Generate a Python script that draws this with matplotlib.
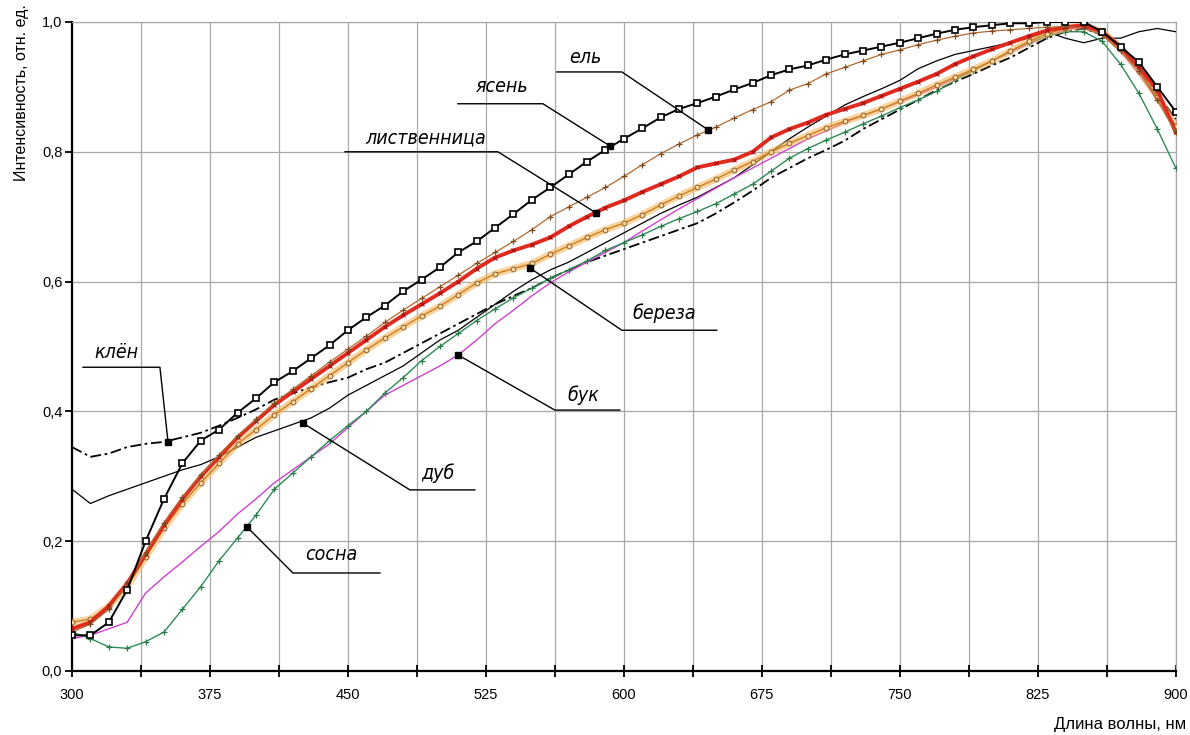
import numpy as np
import matplotlib
matplotlib.use("Agg")
import matplotlib.pyplot as plt

plt.rcParams['font.family'] = ['Liberation Sans', 'DejaVu Sans']

# wavelength grid, nm
wl = list(range(300, 910, 10))

yasen = [0.055, 0.055, 0.075, 0.125, 0.200, 0.265, 0.320, 0.355, 0.372, 0.398,
         0.420, 0.445, 0.462, 0.482, 0.502, 0.525, 0.545, 0.563, 0.585, 0.603,
         0.622, 0.645, 0.662, 0.683, 0.704, 0.726, 0.745, 0.765, 0.785, 0.803,
         0.820, 0.836, 0.853, 0.866, 0.875, 0.885, 0.896, 0.906, 0.918, 0.927,
         0.933, 0.942, 0.950, 0.956, 0.962, 0.968, 0.975, 0.982, 0.988, 0.992,
         0.995, 0.998, 0.998, 1.000, 1.000, 1.000, 0.985, 0.962, 0.938, 0.900,
         0.862]

listv = [0.065, 0.075, 0.100, 0.135, 0.180, 0.225, 0.265, 0.300, 0.330, 0.360,
         0.385, 0.410, 0.430, 0.450, 0.470, 0.490, 0.510, 0.530, 0.548, 0.565,
         0.582, 0.600, 0.620, 0.637, 0.648, 0.657, 0.668, 0.685, 0.700, 0.714,
         0.725, 0.738, 0.750, 0.762, 0.776, 0.782, 0.788, 0.800, 0.822, 0.835,
         0.845, 0.857, 0.866, 0.875, 0.886, 0.897, 0.908, 0.920, 0.935, 0.947,
         0.958, 0.968, 0.978, 0.987, 0.992, 0.995, 0.985, 0.962, 0.930, 0.895,
         0.830]

el = [0.060, 0.072, 0.095, 0.135, 0.182, 0.228, 0.268, 0.302, 0.333, 0.362,
      0.388, 0.413, 0.434, 0.455, 0.476, 0.496, 0.516, 0.537, 0.556, 0.574,
      0.592, 0.610, 0.628, 0.645, 0.662, 0.680, 0.700, 0.715, 0.730, 0.745,
      0.762, 0.780, 0.797, 0.812, 0.826, 0.838, 0.852, 0.865, 0.877, 0.895,
      0.905, 0.920, 0.930, 0.940, 0.950, 0.957, 0.965, 0.972, 0.978, 0.983,
      0.986, 0.988, 0.990, 0.992, 0.993, 0.990, 0.980, 0.955, 0.925, 0.880,
      0.830]

bereza = [0.075, 0.080, 0.100, 0.130, 0.175, 0.220, 0.258, 0.290, 0.320, 0.350,
          0.372, 0.395, 0.415, 0.435, 0.455, 0.475, 0.495, 0.513, 0.530, 0.547,
          0.562, 0.580, 0.598, 0.612, 0.620, 0.628, 0.642, 0.655, 0.668, 0.680,
          0.690, 0.703, 0.718, 0.732, 0.745, 0.758, 0.772, 0.785, 0.800, 0.813,
          0.825, 0.837, 0.847, 0.856, 0.866, 0.878, 0.890, 0.903, 0.915, 0.927,
          0.940, 0.955, 0.970, 0.982, 0.990, 0.995, 0.985, 0.960, 0.925, 0.885,
          0.840]

buk = [0.050, 0.055, 0.065, 0.075, 0.120, 0.145, 0.168, 0.192, 0.215, 0.242,
       0.265, 0.290, 0.310, 0.330, 0.350, 0.375, 0.400, 0.425, 0.440, 0.455,
       0.470, 0.487, 0.510, 0.535, 0.556, 0.578, 0.598, 0.615, 0.630, 0.645,
       0.660, 0.678, 0.695, 0.712, 0.728, 0.744, 0.760, 0.775, 0.790, 0.805,
       0.820, 0.832, 0.845, 0.856, 0.866, 0.877, 0.888, 0.900, 0.913, 0.926,
       0.940, 0.953, 0.966, 0.978, 0.988, 0.992, 0.980, 0.955, 0.920, 0.880,
       0.840]

dub = [0.280, 0.258, 0.270, 0.280, 0.290, 0.300, 0.310, 0.318, 0.330, 0.345,
       0.360, 0.370, 0.380, 0.390, 0.405, 0.425, 0.440, 0.455, 0.470, 0.490,
       0.510, 0.525, 0.545, 0.565, 0.585, 0.603, 0.618, 0.630, 0.645, 0.660,
       0.675, 0.690, 0.705, 0.718, 0.730, 0.745, 0.760, 0.780, 0.800, 0.820,
       0.838, 0.855, 0.872, 0.885, 0.897, 0.910, 0.928, 0.940, 0.950, 0.956,
       0.962, 0.968, 0.975, 0.985, 0.975, 0.968, 0.975, 0.975, 0.985, 0.990,
       0.985]

klen = [0.345, 0.330, 0.335, 0.345, 0.350, 0.353, 0.360, 0.367, 0.378, 0.390,
        0.403, 0.418, 0.428, 0.437, 0.445, 0.452, 0.465, 0.475, 0.490, 0.505,
        0.520, 0.535, 0.550, 0.565, 0.578, 0.590, 0.605, 0.618, 0.630, 0.640,
        0.650, 0.660, 0.670, 0.680, 0.690, 0.705, 0.722, 0.740, 0.760, 0.775,
        0.790, 0.803, 0.817, 0.835, 0.850, 0.865, 0.880, 0.895, 0.908, 0.920,
        0.933, 0.945, 0.960, 0.975, 0.985, 0.990, 0.980, 0.960, 0.930, 0.890,
        0.850]

sosna = [0.060, 0.050, 0.037, 0.035, 0.045, 0.060, 0.095, 0.130, 0.170, 0.205,
         0.240, 0.280, 0.305, 0.330, 0.355, 0.378, 0.400, 0.428, 0.452, 0.478,
         0.500, 0.520, 0.540, 0.558, 0.575, 0.590, 0.605, 0.618, 0.632, 0.648,
         0.660, 0.672, 0.685, 0.697, 0.708, 0.720, 0.735, 0.750, 0.770, 0.790,
         0.805, 0.818, 0.830, 0.843, 0.855, 0.868, 0.880, 0.893, 0.910, 0.925,
         0.940, 0.955, 0.968, 0.978, 0.985, 0.985, 0.970, 0.935, 0.890, 0.835,
         0.775]

# labels: text, text pos, leader polyline (from underline end to point on curve)
notes = [
    ("ясень", (534, 0.900), [(509.8, 0.874), (556, 0.874), (592.4, 0.809)]),
    ("ель", (579, 0.945), [(563.6, 0.923), (598.9, 0.923), (645.7, 0.834)]),
    ("лиственница", (492, 0.821), [(448.4, 0.800), (531.5, 0.800), (584.8, 0.706)]),
    ("береза", (622, 0.552), [(650.5, 0.525), (598.9, 0.525), (548.9, 0.621)]),
    ("бук", (578, 0.425), [(597.8, 0.402), (562.5, 0.402), (509.8, 0.487)]),
    ("дуб", (499, 0.305), [(519.0, 0.279), (483.7, 0.279), (425.5, 0.382)]),
    ("сосна", (441, 0.179), [(467.4, 0.151), (420.1, 0.151), (395.1, 0.222)]),
    ("клён", (324, 0.490), [(306.0, 0.468), (347.8, 0.468), (352.2, 0.353)]),
]

fig = plt.figure(figsize=(11.9, 7.35), dpi=100)
ax = fig.add_axes([0.0605, 0.0871, 0.9275, 0.883])

ax.plot(wl, klen, color='black', lw=1.3, ls=(0, (6, 2, 1.5, 2)), zorder=3)
ax.plot(wl, dub, color='black', lw=0.9, zorder=3)
ax.plot(wl, buk, color='#d040d0', lw=1.0, zorder=3)
ax.plot(wl, sosna, color='#2e8b57', lw=1.0, marker='+', ms=5, mew=0.9,
        mec='#2a7a4a', zorder=4)
ax.plot(wl, bereza, color='#f5b860', lw=5, alpha=0.6, solid_capstyle='round', zorder=4)
ax.plot(wl, bereza, color='#d08020', lw=1.0, marker='o', ms=3.5, mfc='#f8d8a0',
        mec='#805020', mew=0.6, zorder=4)
ax.plot(wl, listv, color='#e02a20', lw=2.8, zorder=5)
ax.plot(wl, listv, color='#a01010', lw=0, marker='x', ms=3.5, mew=0.8, zorder=5)
ax.plot(wl, el, color='#b06a30', lw=0.9, marker='+', ms=5, mew=0.9,
        mec='#7a4a20', zorder=6)
ax.plot(wl, yasen, color='black', lw=1.4, marker='s', ms=5, mfc='white',
        mec='black', mew=1.2, zorder=7)

for txt, (tx, ty), pts in notes:
    px = [p[0] for p in pts]
    py = [p[1] for p in pts]
    ax.plot(px, py, color='black', lw=1.0, zorder=8)
    ax.plot(px[-1], py[-1], marker='s', ms=5, color='black', zorder=9)
    ax.text(tx, ty, txt, fontsize=14, style='italic', ha='center', va='center',
            family=['DejaVu Sans'], fontstretch='condensed', zorder=9)

ax.set_xlim(300, 900)
ax.set_ylim(0, 1.0)

xt = [300 + 37.5 * i for i in range(17)]
ax.set_xticks(xt)
ax.set_xticklabels([str(int(v)) if i % 2 == 0 else '' for i, v in enumerate(xt)])
yt = [0, 0.2, 0.4, 0.6, 0.8, 1.0]
ax.set_yticks(yt)
ax.set_yticklabels(['0,0', '0,2', '0,4', '0,6', '0,8', '1,0'])

ax.grid(True, color='#a8a8a8', lw=0.9)
ax.set_axisbelow(True)
for s in ['top', 'right']:
    ax.spines[s].set_color('#a8a8a8')
    ax.spines[s].set_linewidth(0.9)
for s in ['left', 'bottom']:
    ax.spines[s].set_color('black')
    ax.spines[s].set_linewidth(1.6)
ax.tick_params(axis='x', direction='inout', length=9, width=1.3, labelsize=10.5, pad=8)
ax.tick_params(axis='y', direction='out', length=5, width=1.3, labelsize=10.5, pad=2)

fig.text(0.012, 0.995, "Интенсивность, отн. ед.", rotation=90, ha='left', va='top',
         fontsize=11.5)
fig.text(0.997, 0.004, "Длина волны, нм", ha='right', va='bottom', fontsize=12)

fig.savefig("out.png", dpi=100)
